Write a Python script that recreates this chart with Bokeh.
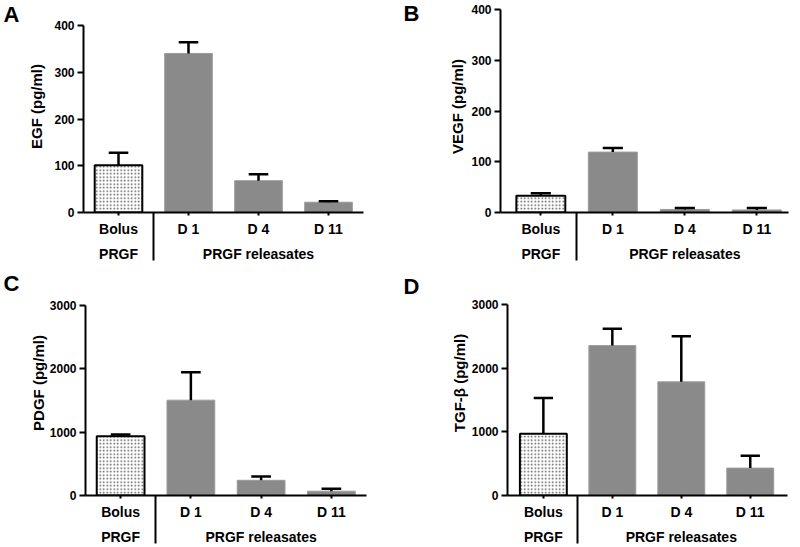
from bokeh.plotting import figure
from bokeh.layouts import column, row
from bokeh.models import Range1d, FixedTicker, LinearAxis
from bokeh.embed import file_html
from bokeh.resources import INLINE

# ---- data ----
categories = ["Bolus", "D 1", "D 4", "D 11"]
groups = ["PRGF", "PRGF releasates"]

egf = [101, 340, 68, 22]
egf_err = [27, 24, 14, 2]

vegf = [33, 119, 6, 5]
vegf_err = [5, 8, 3, 4]

pdgf = [935, 1505, 240, 68]
pdgf_err = [30, 440, 60, 40]

tgf = [970, 2355, 1785, 430]
tgf_err = [560, 265, 715, 195]

ticks_small = [0, 100, 200, 300, 400]
ticks_large = [0, 1000, 2000, 3000]

FONT = "Liberation Sans"
GRAY = "#8a8a8a"


def style_labels(ax, size):
    ax.major_label_text_font = FONT
    ax.major_label_text_font_style = "bold"
    ax.major_label_text_font_size = size
    ax.major_label_text_color = "black"


def bare(ax):
    ax.axis_line_color = None
    ax.major_tick_line_color = None
    ax.minor_tick_line_color = None
    ax.major_tick_out = 0
    ax.major_tick_in = 0
    ax.minor_tick_out = 0
    ax.minor_tick_in = 0


def make_panel(letter, ylabel, values, errs, ymax, yticks, w, h,
               fl, fr, ft, fb, xr, letter_y, letter_standoff, lab_standoff):
    # frame runs from the top of the canvas; ymax sits ft px below it
    y_end = ymax * fb / (fb - ft)
    p = figure(width=w, height=h, x_range=Range1d(*xr), y_range=Range1d(0, y_end),
               output_backend="svg", toolbar_location=None,
               min_border_left=fl, min_border_right=w - fr,
               min_border_top=0, min_border_bottom=h - fb)
    p.outline_line_color = None
    p.xgrid.visible = False
    p.ygrid.visible = False

    xs = [i + 0.5 for i in range(len(categories))]

    p.vbar(x=xs[:1], top=values[:1], width=0.68, fill_color="white",
           line_color="black", line_width=2, hatch_pattern=".",
           hatch_color="#555555", hatch_scale=3.5, hatch_weight=1)
    p.vbar(x=xs[1:], top=values[1:], width=0.68, fill_color=GRAY,
           line_color="#9a9a9a", line_width=1)

    tops = [v + e for v, e in zip(values, errs)]
    p.segment(x0=xs, y0=values, x1=xs, y1=tops, line_color="black", line_width=2.5)
    p.segment(x0=[x - 0.14 for x in xs], y0=tops, x1=[x + 0.14 for x in xs], y1=tops,
              line_color="black", line_width=2.5)

    # category axis
    xa = p.xaxis[0]
    xa.ticker = FixedTicker(ticks=xs, minor_ticks=[])
    xa.major_label_overrides = {x: c for x, c in zip(xs, categories)}
    xa.major_tick_out = 3
    xa.major_tick_in = 0
    xa.minor_tick_line_color = None
    xa.axis_line_width = 2
    xa.major_tick_line_width = 2
    xa.major_label_standoff = 5
    style_labels(xa, "14px")

    # group axis; its minor tick is the vertical separator
    ga = LinearAxis(ticker=FixedTicker(ticks=[0.5, 2.5], minor_ticks=[1.0]),
                    major_label_overrides={0.5: groups[0], 2.5: groups[1]})
    bare(ga)
    ga.minor_tick_line_color = "black"
    ga.minor_tick_line_width = 2
    ga.minor_tick_in = 27
    ga.minor_tick_out = 21
    ga.major_label_standoff = -15
    style_labels(ga, "14px")
    p.add_layout(ga, "below")

    ya = p.yaxis[0]
    ya.ticker = FixedTicker(ticks=yticks)
    ya.bounds = (0, ymax)
    ya.major_tick_out = 6
    ya.major_tick_in = 0
    ya.minor_tick_line_color = None
    ya.axis_line_width = 2
    ya.major_tick_line_width = 2
    ya.major_label_standoff = 3
    style_labels(ya, "12px")
    ya.axis_label = ylabel
    ya.axis_label_standoff = lab_standoff
    ya.axis_label_text_font = FONT
    ya.axis_label_text_font_style = "bold"
    ya.axis_label_text_font_size = "15px"
    ya.axis_label_text_color = "black"

    # panel letter as the tick label of an extra, bare left axis
    ly = ymax * (fb - letter_y) / (fb - ft)
    la = LinearAxis(ticker=FixedTicker(ticks=[ly]), major_label_overrides={ly: letter})
    bare(la)
    la.major_label_standoff = letter_standoff
    style_labels(la, "22px")
    p.add_layout(la, "left")
    return p


pA = make_panel("A", "EGF (pg/ml)", egf, egf_err, 400, ticks_small,
                400, 270, 78, 363, 25, 212, (0, 4), 13.5, 6, 6)
pB = make_panel("B", "VEGF (pg/ml)", vegf, vegf_err, 400, ticks_small,
                400, 270, 90, 388, 9, 212, (-0.06, 3.94), 12.5, 27, 2)
pC = make_panel("C", "PDGF (pg/ml)", pdgf, pdgf_err, 3000, ticks_large,
                400, 277, 78, 366, 35, 225, (0, 4), 12.5, 7, 0)
pD = make_panel("D", "TGF-\u03b2 (pg/ml)", tgf, tgf_err, 3000, ticks_large,
                400, 277, 97, 387, 34, 225, (-0.02, 4.04), 9.5, 28, 1)

layout = column(row(pA, pB), row(pC, pD))
open("out.html", "w").write(file_html(layout, INLINE))
